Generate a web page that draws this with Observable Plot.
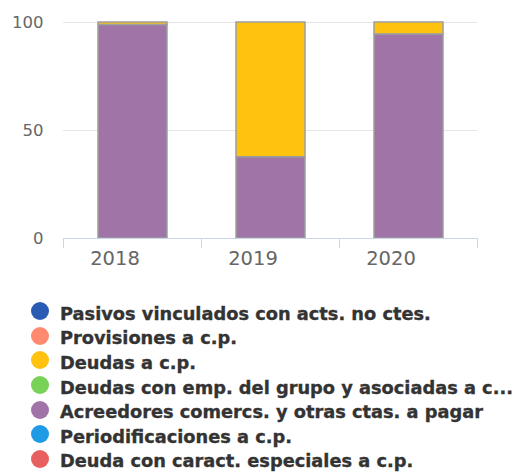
<!DOCTYPE html>
<html>
<head>
<meta charset="utf-8">
<script src="https://cdn.jsdelivr.net/npm/d3@7"></script>
<script src="https://cdn.jsdelivr.net/npm/@observablehq/plot@0.6"></script>
<style>
  html, body { margin: 0; padding: 0; background: #fff; }
  body { width: 512px; height: 472px; overflow: hidden; font-family: "DejaVu Sans", sans-serif; }
  #legend { margin-top: 16px; padding-left: 31px; }
  .item { display: flex; align-items: center; height: 24.6px; }
  .dot { width: 18px; height: 18px; border-radius: 50%; margin-right: 11px; flex: none; position: relative; top: -2px; }
  .lbl { font-weight: bold; font-size: 17.8px; color: #333; white-space: nowrap; -webkit-text-stroke: 0.35px #333; }
</style>
</head>
<body>
<div id="chart"></div>
<div id="legend"></div>
<script>
const years = ["2018", "2019", "2020"];
const seriesNames = [
  "Pasivos vinculados con acts. no ctes.",
  "Provisiones a c.p.",
  "Deudas a c.p.",
  "Deudas con emp. del grupo y asociadas a c...",
  "Acreedores comercs. y otras ctas. a pagar",
  "Periodificaciones a c.p.",
  "Deuda con caract. especiales a c.p."
];
const seriesColors = ["#2b5cb3", "#ff8a70", "#ffc20e", "#77d257", "#a074a6", "#1f9be6", "#e85f5f"];
const pasivos = [0, 0, 0];
const provisiones = [0, 0, 0];
const deudasCp = [1.2, 62.4, 5.6];
const deudasGrupo = [0, 0, 0];
const acreedores = [98.8, 37.6, 94.4];
const periodificaciones = [0, 0, 0];
const deudaEspeciales = [0, 0, 0];
const yTicks = [0, 50, 100];

const seriesValues = [pasivos, provisiones, deudasCp, deudasGrupo, acreedores, periodificaciones, deudaEspeciales];
const data = [];
seriesNames.forEach((s, i) => years.forEach((y, j) => {
  if (seriesValues[i][j] > 0) data.push({year: y, series: s, value: seriesValues[i][j]});
}));

const boundaryTicks = (index, scales, values, dims) => {
  const x = scales.x, y = scales.y;
  const centers = years.map(v => x(v) + (x.bandwidth ? x.bandwidth() : 0) / 2);
  const step = centers[1] - centers[0];
  const bounds = [centers[0] - step / 2, ...centers.map(c => c + step / 2)];
  const y0 = y(0);
  const g = d3.create("svg:g");
  g.selectAll("line").data(bounds).join("line")
    .attr("x1", d => d).attr("x2", d => d)
    .attr("y1", y0).attr("y2", y0 + 10)
    .attr("stroke", "#ccd6eb").attr("stroke-width", 1);
  return g.node();
};

const plot = Plot.plot({
  width: 512,
  height: 285,
  marginTop: 22,
  marginBottom: 47,
  marginLeft: 63,
  marginRight: 35,
  style: {fontFamily: "DejaVu Sans, sans-serif", fontSize: "15px", color: "#666", background: "#fff"},
  x: {domain: years, paddingInner: 0.5, paddingOuter: 0.25, label: null},
  y: {domain: [0, 100], label: null},
  color: {domain: seriesNames, range: seriesColors},
  marks: [
    Plot.ruleY(yTicks.filter(d => d > 0), {stroke: "#e6e6e6", strokeWidth: 1}),
    Plot.barY(data, Plot.stackY({x: "year", y: "value", fill: "series", reverse: true, stroke: "#9e9e9e", strokeWidth: 1.5})),
    Plot.ruleY([0], {stroke: "#ccd6eb", strokeWidth: 1}),
    boundaryTicks,
    Plot.axisY({ticks: yTicks, tickSize: 0, tickPadding: 20, fontSize: 16.5, fill: "#666", label: null}),
    Plot.axisX({tickSize: 0, tickPadding: 13, fontSize: 19.5, fill: "#666", dx: -18, label: null})
  ]
});
document.getElementById("chart").appendChild(plot);

const legend = d3.select("#legend");
seriesNames.forEach((s, i) => {
  const it = legend.append("div").attr("class", "item");
  it.append("div").attr("class", "dot").style("background", seriesColors[i]);
  it.append("div").attr("class", "lbl").text(s);
});
</script>
</body>
</html>
